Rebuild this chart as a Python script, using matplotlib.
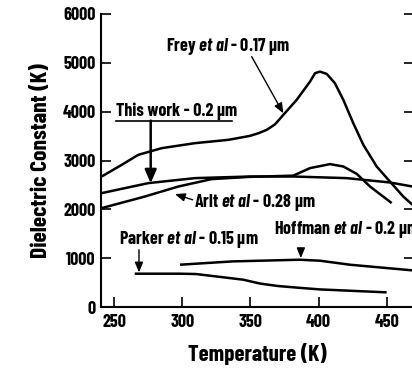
import matplotlib
matplotlib.use("Agg")
import matplotlib.pyplot as plt

# ── Curves: temperature (K) vs. dielectric constant ──────────────────────────
frey_T = [240.7, 255.4, 267.6, 284.8, 309.2, 333.7, 349.6, 356.0, 361.9, 368.0,
          374.1, 383.9, 393.7, 397.4, 401.0, 406.0, 412.0, 418.2, 425.5, 432.9,
          442.7, 452.4, 462.2, 469.0]
frey_k = [2672, 2911, 3116, 3253, 3355, 3423, 3504, 3560, 3627, 3740,
          3934, 4241, 4615, 4787, 4820, 4773, 4583, 4241, 3764, 3320,
          2876, 2570, 2263, 2093]

this_T = [240.7, 275.0, 309.2, 349.6, 381.4, 420.6, 452.4, 469.0]
this_k = [2332, 2537, 2639, 2672, 2672, 2639, 2550, 2467]

arlt_T = [240.7, 272.5, 297.0, 321.5, 349.6, 381.4, 393.7, 408.4, 418.2, 428.0,
          437.8, 453.7]
arlt_k = [2025, 2263, 2467, 2619, 2665, 2690, 2844, 2926, 2877, 2727,
          2467, 2128]

hoff_T = [298.2, 337.0, 386.0, 401.0, 423.0, 469.0]
hoff_k = [866, 934, 968, 948, 866, 750]

park_T = [265.0, 298.0, 310.0, 325.0, 344.7, 357.0, 370.0, 385.0, 401.0, 450.0]
park_k = [682, 682, 675, 625, 559, 480, 430, 395, 360, 300]

x_ticks = [250, 300, 350, 400, 450]
y_ticks = [0, 1000, 2000, 3000, 4000, 5000, 6000]

FONT = "Barlow Condensed"
plt.rcParams["font.family"] = [FONT, "DejaVu Sans"]
plt.rcParams["font.weight"] = "bold"
plt.rcParams["axes.labelweight"] = "bold"
plt.rcParams["mathtext.fontset"] = "custom"
plt.rcParams["mathtext.rm"] = f"{FONT}:bold"
plt.rcParams["mathtext.it"] = f"{FONT}:italic:bold"

fig = plt.figure(figsize=(4.12, 3.71), dpi=100)
ax = fig.add_axes([101 / 412, 64 / 371, 313 / 412, 293 / 371])

for T, k in [(frey_T, frey_k), (this_T, this_k), (arlt_T, arlt_k),
             (hoff_T, hoff_k), (park_T, park_k)]:
    ax.plot(T, k, color="black", lw=1.8, solid_capstyle="butt",
            solid_joinstyle="round")

ax.set_xlim(240.2, 470.1)
ax.set_ylim(0, 6000)
ax.set_xticks(x_ticks)
ax.set_yticks(y_ticks)
ax.tick_params(direction="in", length=7, width=1.2, labelsize=13, pad=4,
               right=True, top=False)
ax.tick_params(axis="x", pad=5)
for s in ["top", "right"]:
    ax.spines[s].set_visible(False)
for s in ["left", "bottom"]:
    ax.spines[s].set_linewidth(1.5)

ax.set_xlabel("Temperature (K)", fontsize=16.5, labelpad=9)
ax.set_ylabel("Dielectric Constant (K)", fontsize=17, labelpad=8)

arrow = dict(arrowstyle="-|>,head_length=0.6,head_width=0.25", color="black",
             lw=1.0, shrinkA=0, shrinkB=0)
thick = dict(arrowstyle="-|>,head_length=0.8,head_width=0.35", color="black",
             lw=1.8, shrinkA=0, shrinkB=0)
txt = dict(fontsize=13, va="center", ha="left")

ax.text(287.7, 5330, r"Frey $\mathit{et\ al}$ - 0.17 µm", **txt)
ax.annotate("", xy=(374.1, 3967), xytext=(350.9, 5126), arrowprops=arrow)

ax.text(251.2, 4015, "This work - 0.2 µm", **txt)
ax.plot([251.2, 336.2], [3817, 3817], color="black", lw=1.2)
ax.annotate("", xy=(276.7, 2536), xytext=(276.7, 3817), arrowprops=thick)

ax.text(308.7, 2147, r"Arlt $\mathit{et\ al}$ - 0.28 µm", **txt)
ax.annotate("", xy=(294.6, 2311), xytext=(307.5, 2195), arrowprops=arrow)

ax.text(253.4, 1390, r"Parker $\mathit{et\ al}$ - 0.15 µm", **txt)
ax.annotate("", xy=(268.1, 709), xytext=(268.1, 1172), arrowprops=arrow)

ax.text(367.3, 1581, r"Hoffman $\mathit{et\ al}$ - 0.2 µm", **txt)
ax.annotate("", xy=(387.0, 1002), xytext=(387.0, 1206), arrowprops=arrow)

fig.savefig("out.png", dpi=100)
